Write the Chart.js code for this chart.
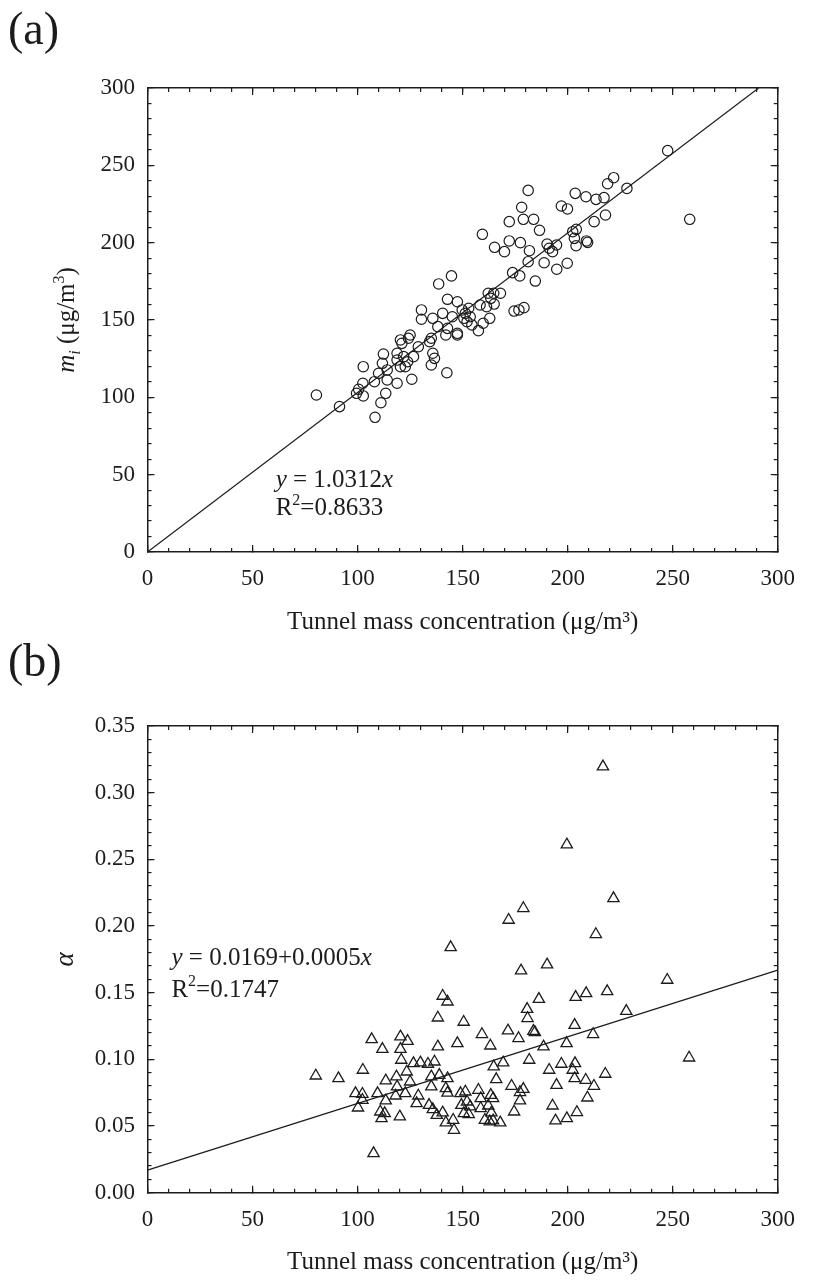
<!DOCTYPE html>
<html><head><meta charset="utf-8">
<script src="https://cdn.jsdelivr.net/npm/chart.js@4.4.1/dist/chart.umd.min.js"></script>
<style>
html,body{margin:0;padding:0;background:#fff;}
#wrap{position:relative;width:815px;height:1280px;overflow:hidden;background:#fff;}
canvas{position:absolute;left:0;}
.panel{position:absolute;left:8px;font-family:'Liberation Serif','Times New Roman',serif;font-size:46px;line-height:46px;color:#1c1c1c;}
</style></head><body>
<div id="wrap">
<canvas id="ca" width="815" height="650" style="top:0"></canvas>
<canvas id="cb" width="815" height="630" style="top:650px"></canvas>
<div class="panel" style="top:6px">(a)</div>
<div class="panel" style="top:638px">(b)</div>
</div>
<script>
// ---------- data: panel (a) ----------
const massA = [247.6,258.1,228.2,221.9,219,217.3,213.5,208.7,203.6,212.6,218,181.2,178.1,197,199.9,172.2,178.9,183.8,186.6,159.4,165.2,169.9,172.2,177.5,181.8,181.2,190.2,192.8,194.7,191.2,202.4,204.1,203.2,204,208.9,209.5,188.8,194.8,199.8,173.8,177.2,184.6,174.5,176.8,179.2,162.2,164.8,168,163.4,165,161.4,158.3,162.9,159.8,157.5,152.9,151.3,153.6,150.6,154.4,152.1,
144.7,138.6,142.8,147.5,130.4,130.4,135.8,140.5,145.1,149.8,138.2,142.8,147.5,135.1,120.4,
80.4,91.4,99.5,100.5,102.7,102.7,102.5,108,108.3,111.1,113.4,110,112.3,111.8,114.1,114.1,118.8,125.8,118.8,118.8,121.9,122.7,123.8,126.6,121.1,124.2,125,128.9,135.1,135.8,136.6,134.3,142.5,142,147.5,120.4];
const miA = [259.5,215.1,235.1,242,238.1,229.1,228,229.7,231.9,213.6,217.9,233.8,222.9,223.7,221.8,213.6,215.1,215.1,208,205.4,197,194.2,201.1,200,194.8,187.7,199.1,194.2,198.5,196.4,207.1,208.6,202.8,198,201.1,200.2,187,182.8,186.7,180.6,178.5,175.2,155.8,156.5,158,167.3,167.3,167.3,164,160.3,158.6,159.7,151.1,147.9,143.1,157.6,154.3,152.1,151.1,146.8,148.9,
178.5,173.3,163.4,161.8,156.5,150.5,151.1,154.3,152.1,156.5,145.7,144.6,141.4,138.2,137.1,
101.5,94,102.6,105.2,100.9,119.8,109.1,110.1,87.1,96.5,102.6,115.5,128,122,117.7,111.2,109.1,111.7,128.5,124.1,126.3,119.8,123,126.3,134.9,138.2,140.3,132.7,120.9,128.5,125.2,136,115.9,140.3,140.3,119.8];
const fitA_x = [0, 290.9];
const fitA_y = [0, 300];

// ---------- data: panel (b) ----------
const massB = [216.8,199.6,221.8,178.9,171.9,213.4,
177.8,190.2,247.4,186.3,203.8,208.8,218.8,180.7,180.9,227.9,203.3,171.6,183.7,184.4,159.2,176.6,212.1,163.2,199.5,188.5,150.5,257.8,169.3,164.8,181.7,197,203.5,202.4,191.2,217.9,166,203.3,208.6,173.3,178.9,177.3,194.7,212.5,157.5,151.3,209.4,163.4,164.5,158.6,177.3,152.1,153.6,158.6,162.2,192.8,174.5,163.7,204.4,152.9,150.6,160.6,162.9,164.5,167.9,194.2,199.6,
144.3,140.5,142.8,138.2,106.7,120.4,123.8,111.8,120.4,138.2,147.5,120.8,126.6,129.9,133.5,136.6,80.1,90.9,102.5,113.4,118.5,123.4,125,135.1,138.9,142.8,118.8,122.7,118.1,109.5,99,102.3,102.3,100.2,113.4,128.9,128.1,134,135.8,140.5,135.1,142,142.8,149,110.8,112.9,111.4,120.1,137.7,142,145.5,145.9,107.6,149.4];
const alphaB = [0.3195,0.261,0.2207,0.2133,0.2045,0.1938,
0.1665,0.171,0.1595,0.1452,0.1467,0.1495,0.151,0.1377,0.1308,0.1362,0.1257,0.1215,0.1212,0.1203,0.1188,0.1158,0.1188,0.1102,0.112,0.1095,0.128,0.1012,0.0975,0.0945,0.0995,0.0965,0.097,0.092,0.092,0.089,0.085,0.0857,0.0845,0.08,0.0777,0.0753,0.0807,0.08,0.077,0.0757,0.0712,0.0732,0.0707,0.0707,0.069,0.0682,0.0645,0.0633,0.0652,0.0652,0.0607,0.06,0.0603,0.0588,0.0595,0.0545,0.0533,0.054,0.0525,0.054,0.0557,
0.184,0.1475,0.1432,0.1312,0.115,0.117,0.1137,0.1077,0.1077,0.1095,0.112,0.0995,0.097,0.0975,0.0965,0.0982,0.0877,0.0857,0.092,0.084,0.087,0.0907,0.0832,0.087,0.0882,0.0857,0.0795,0.0745,0.0727,0.0745,0.0745,0.074,0.0695,0.0637,0.069,0.0727,0.067,0.0657,0.0625,0.06,0.0795,0.0782,0.0749,0.0745,0.0607,0.0595,0.0557,0.057,0.0582,0.0525,0.0545,0.047,0.0295,0.0657];
const fitB_x = [0, 300];
const fitB_y = [0.0169, 0.1669];

// ---------- tick settings ----------
const xTicksMajor = 50, xTicksMinor = 10;
const yTicksMajorA = 50, yTicksMinorA = 10;
const yTicksMajorB = 0.05, yTicksMinorB = 0.01;

// ---------- styling ----------
const INK = '#1c1c1c';
const FAMILY = "'Liberation Serif', 'Times New Roman', serif";
const TICK_PX = 23;

function drawSegs(ctx, x, y, segs, size, align) {
  const fontOf = s => (s.i ? 'italic ' : '') + ((s.sup || s.sub) ? Math.round(size * 0.62) : size) + 'px ' + FAMILY;
  let total = 0;
  const widths = segs.map(s => { ctx.font = fontOf(s); const w = ctx.measureText(s.t).width; total += w; return w; });
  let cx = align === 'center' ? x - total / 2 : x;
  ctx.textAlign = 'left';
  ctx.textBaseline = 'alphabetic';
  segs.forEach((s, k) => {
    ctx.font = fontOf(s);
    const dy = s.sup ? -size * 0.42 : (s.sub ? size * 0.22 : 0);
    ctx.fillText(s.t, cx, y + dy);
    cx += widths[k];
  });
}

function richPlugin(notes, yTitle) {
  return {
    id: 'rich',
    afterDatasetsDraw(chart) {
      const ctx = chart.ctx, xs = chart.scales.x, ys = chart.scales.y;
      ctx.save();
      ctx.fillStyle = INK;
      notes.forEach(n => drawSegs(ctx, xs.getPixelForValue(n.x), ys.getPixelForValue(n.y), n.segs, n.size, 'left'));
      if (yTitle) {
        const ca = chart.chartArea;
        ctx.translate(yTitle.cx, (ca.top + ca.bottom) / 2);
        ctx.rotate(-Math.PI / 2);
        drawSegs(ctx, 0, yTitle.size * 0.33, yTitle.segs, yTitle.size, 'center');
      }
      ctx.restore();
    }
  };
}

function frameScales(o) {
  const tickGrid = len => ({display: true, drawOnChartArea: false, drawTicks: true, tickLength: len, color: INK, lineWidth: 1.2});
  const hidden = step => ({display: false, stepSize: step, autoSkip: false});
  const border = {display: true, color: INK, width: 1.5};
  const noBorder = {display: false};
  const zeroH = s => { s.height = 0; };
  const zeroW = s => { s.width = 0; };
  const xr = {type: 'linear', min: o.xmin, max: o.xmax};
  const yr = {type: 'linear', min: o.ymin, max: o.ymax};
  return {
    x: Object.assign({}, xr, {axis: 'x', position: 'bottom', weight: 1,
      ticks: {stepSize: o.xstep, autoSkip: false, maxRotation: 0, padding: 20, color: INK, font: {family: FAMILY, size: TICK_PX}},
      grid: tickGrid(-7), border: border,
      title: {display: true, text: o.xTitle, color: INK, font: {family: FAMILY, size: 25}, padding: {top: 0, bottom: o.xTitlePad}},
      afterFit: s => { s.height = o.bottomH; }}),
    xMinor: Object.assign({}, xr, {axis: 'x', position: 'bottom', weight: 0, ticks: hidden(o.xminor), grid: tickGrid(-4), border: noBorder, afterFit: zeroH}),
    xTop: Object.assign({}, xr, {axis: 'x', position: 'top', weight: 0, ticks: hidden(o.xstep), grid: tickGrid(-7), border: border, afterFit: zeroH}),
    xTopMinor: Object.assign({}, xr, {axis: 'x', position: 'top', weight: 0, ticks: hidden(o.xminor), grid: tickGrid(-4), border: noBorder, afterFit: zeroH}),
    y: Object.assign({}, yr, {axis: 'y', position: 'left', weight: 1,
      ticks: {stepSize: o.ystep, autoSkip: false, padding: 19.5, color: INK, font: {family: FAMILY, size: TICK_PX}, callback: o.yFmt},
      grid: tickGrid(-7), border: border,
      title: o.yTitle || {display: false},
      afterFit: s => { s.width = 147.5; }}),
    yMinor: Object.assign({}, yr, {axis: 'y', position: 'left', weight: 0, ticks: hidden(o.yminor), grid: tickGrid(-4), border: noBorder, afterFit: zeroW}),
    yRight: Object.assign({}, yr, {axis: 'y', position: 'right', weight: 0, ticks: hidden(o.ystep), grid: tickGrid(-7), border: border, afterFit: zeroW}),
    yRightMinor: Object.assign({}, yr, {axis: 'y', position: 'right', weight: 0, ticks: hidden(o.yminor), grid: tickGrid(-4), border: noBorder, afterFit: zeroW})
  };
}

const XTITLE = 'Tunnel mass concentration (\u03BCg/m\u00B3)';

// ---------- chart (a) ----------
new Chart(document.getElementById('ca'), {
  type: 'scatter',
  data: {
    datasets: [
      {type: 'scatter', data: massA.map((v, k) => ({x: v, y: miA[k]})), xAxisID: 'x', yAxisID: 'y',
       pointStyle: 'circle', pointRadius: 5.2, pointHoverRadius: 5.2, borderWidth: 1.2, borderColor: INK, backgroundColor: 'rgba(0,0,0,0)'},
      {type: 'line', data: fitA_x.map((v, k) => ({x: v, y: fitA_y[k]})), xAxisID: 'x', yAxisID: 'y',
       borderColor: INK, borderWidth: 1.2, pointRadius: 0, fill: false, tension: 0}
    ]
  },
  options: {
    responsive: false, animation: false, devicePixelRatio: 1,
    layout: {padding: {left: 0, top: 88, right: 21.5, bottom: 0}},
    plugins: {legend: {display: false}, tooltip: {enabled: false}},
    scales: frameScales({xmin: 0, xmax: 300, xstep: xTicksMajor, xminor: xTicksMinor,
      ymin: 0, ymax: 300, ystep: yTicksMajorA, yminor: yTicksMinorA,
      bottomH: 98, xTitle: XTITLE, xTitlePad: 13, yFmt: v => String(v)})
  },
  plugins: [richPlugin([
    {x: 61, y: 42.2, size: 25, segs: [{t: 'y', i: 1}, {t: ' = 1.0312'}, {t: 'x', i: 1}]},
    {x: 61, y: 23.9, size: 25, segs: [{t: 'R'}, {t: '2', sup: 1}, {t: '=0.8633'}]}
  ], {cx: 66, size: 25, segs: [{t: 'm', i: 1}, {t: 'i', i: 1, sub: 1}, {t: ' (\u03BCg/m'}, {t: '3', sup: 1}, {t: ')'}]})]
});

// ---------- chart (b) ----------
new Chart(document.getElementById('cb'), {
  type: 'scatter',
  data: {
    datasets: [
      {type: 'scatter', data: massB.map((v, k) => ({x: v, y: alphaB[k]})), xAxisID: 'x', yAxisID: 'y',
       pointStyle: 'triangle', pointRadius: 6.5, pointHoverRadius: 6.5, borderWidth: 1.3, borderColor: INK, backgroundColor: 'rgba(0,0,0,0)'},
      {type: 'line', data: fitB_x.map((v, k) => ({x: v, y: fitB_y[k]})), xAxisID: 'x', yAxisID: 'y',
       borderColor: INK, borderWidth: 1.2, pointRadius: 0, fill: false, tension: 0}
    ]
  },
  options: {
    responsive: false, animation: false, devicePixelRatio: 1,
    layout: {padding: {left: 0, top: 76, right: 21.5, bottom: 0}},
    plugins: {legend: {display: false}, tooltip: {enabled: false}},
    scales: frameScales({xmin: 0, xmax: 300, xstep: xTicksMajor, xminor: xTicksMinor,
      ymin: 0, ymax: 0.35, ystep: yTicksMajorB, yminor: yTicksMinorB,
      bottomH: 87.3, xTitle: XTITLE, xTitlePad: 3, yFmt: v => Number(v).toFixed(2),
      yTitle: {display: true, text: '\u03B1', color: INK, font: {family: FAMILY, size: 27, style: 'italic'}, padding: {top: 49.8, bottom: 0}}})
  },
  plugins: [richPlugin([
    {x: 11.4, y: 0.1707, size: 25, segs: [{t: 'y', i: 1}, {t: ' = 0.0169+0.0005'}, {t: 'x', i: 1}]},
    {x: 11.4, y: 0.147, size: 25, segs: [{t: 'R'}, {t: '2', sup: 1}, {t: '=0.1747'}]}
  ], null)]
});
</script>
</body></html>
